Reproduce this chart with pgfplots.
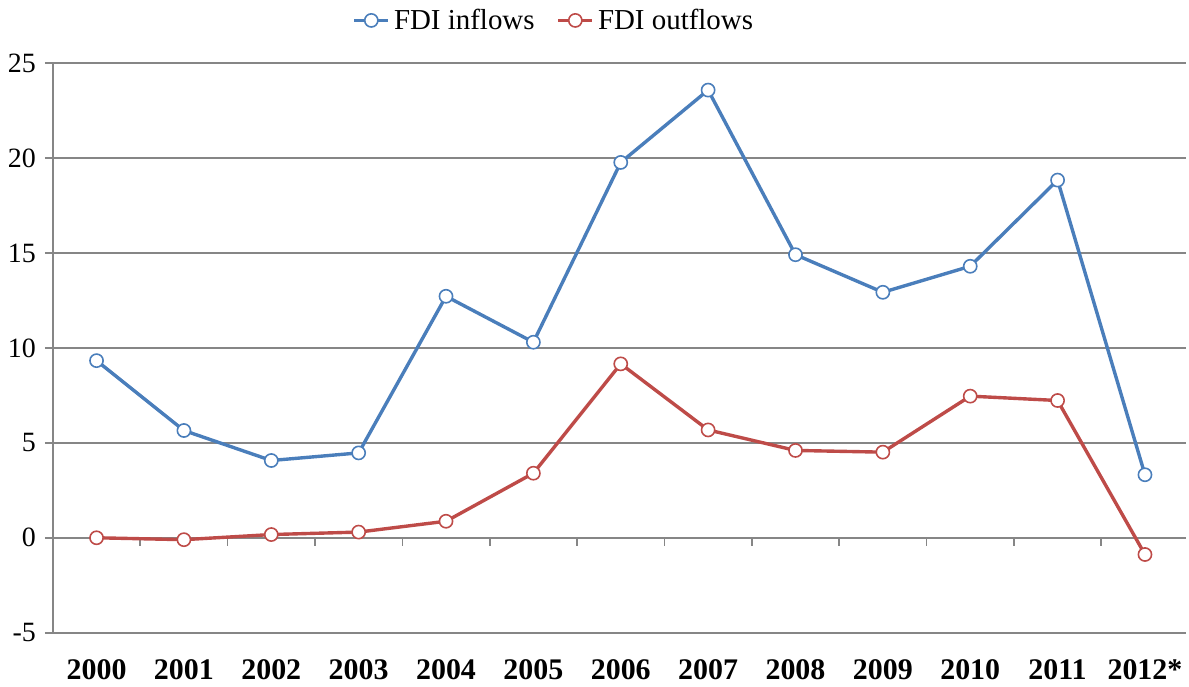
\documentclass[border=0pt]{standalone}
\usepackage{fontspec}
\setmainfont{Liberation Serif}
\usepackage{pgfplots}
\pgfplotsset{compat=1.18}

\definecolor{inblue}{HTML}{4A7EBB}
\definecolor{outred}{HTML}{BE4B48}
\definecolor{gridgray}{HTML}{868686}

\begin{document}
\begin{tikzpicture}[font=\fontsize{13.5}{16}\selectfont]
\begin{axis}[
  name=ax,
  scale only axis,
  width=568pt, height=285.5pt,
  xmin=-0.5, xmax=12.47,
  ymin=-5, ymax=25,
  axis x line*=bottom,
  axis y line*=left,
  x axis line style={draw=gridgray, line width=0.8pt},
  y axis line style={draw=gridgray, line width=0.8pt},
  xtick={0,...,12},
  xticklabels={2000,2001,2002,2003,2004,2005,2006,2007,2008,2009,2010,2011,2012*},
  x tick style={draw=none},
  xticklabel style={font=\fontsize{15}{18}\selectfont\bfseries, yshift=-6pt},
  ytick={-5,0,5,10,15,20,25},
  yticklabels={-5,0,5,10,15,20,25},
  y tick style={draw=gridgray, line width=0.8pt},
  tick align=outside,
  major tick length=4pt,
  ymajorgrids,
  major grid style={draw=gridgray, line width=0.8pt},
  yticklabel style={font=\fontsize{14}{16}\selectfont, xshift=-1pt},
  legend style={draw=none, fill=none, at={(0.443,1.075)}, anchor=center,
    legend columns=2, font=\fontsize{14.5}{17}\selectfont,
    /tikz/every even column/.append style={column sep=9pt}},
  legend cell align=left,
  clip=false,
]
% category separators on the zero line
\pgfplotsinvokeforeach{0.5,1.5,2.5,3.5,4.5,5.5,6.5,7.5,8.5,9.5,10.5,11.5}{
  \draw[gridgray, line width=0.8pt] (axis cs:#1,0) -- ([yshift=-4pt]axis cs:#1,0);
}
\addplot[inblue, line width=1.7pt, mark=*, mark size=3.3pt,
  mark options={fill=white, draw=inblue, line width=0.8pt}]
  coordinates {
  (0,9.33) (1,5.65) (2,4.07) (3,4.47) (4,12.72) (5,10.30) (6,19.77)
  (7,23.58) (8,14.91) (9,12.93) (10,14.30) (11,18.84) (12,3.32)};
\addlegendentry{FDI inflows}
\addplot[outred, line width=1.7pt, mark=*, mark size=3.3pt,
  mark options={fill=white, draw=outred, line width=0.8pt}]
  coordinates {
  (0,0.00) (1,-0.10) (2,0.17) (3,0.30) (4,0.87) (5,3.40) (6,9.16)
  (7,5.68) (8,4.60) (9,4.51) (10,7.46) (11,7.23) (12,-0.88)};
\addlegendentry{FDI outflows}
\end{axis}
\path[use as bounding box] ([xshift=-26.5pt, yshift=-23.85pt]ax.south west)
  rectangle ([yshift=31.65pt]ax.north east);
\end{tikzpicture}
\end{document}
